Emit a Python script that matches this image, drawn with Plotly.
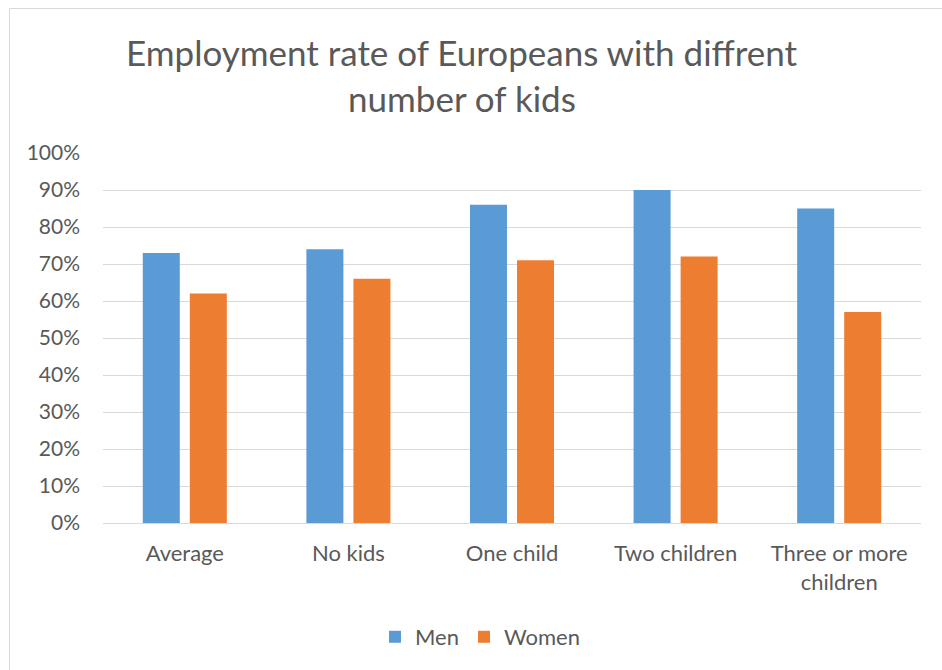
import plotly.graph_objects as go

categories = ["Average", "No kids", "One child", "Two children", "Three or more<br>children"]
men = [73, 74, 86, 90, 85]
women = [62, 66, 71, 72, 57]
title_lines = ["Employment rate of Europeans with diffrent", "number of kids"]

FONT = "Lato"
TXT = "#595959"

fig = go.Figure()
fig.add_trace(go.Bar(x=categories, y=[v / 100 for v in men], name="Men",
                     marker=dict(color="#5B9BD5", line=dict(width=0))))
fig.add_trace(go.Bar(x=categories, y=[v / 100 for v in women], name="Women",
                     marker=dict(color="#ED7D31", line=dict(width=0))))

W, H = 942, 670
L, R, T, B = 103, 21, 153, 147
PW, PH = W - L - R, H - T - B

fig.update_layout(
    width=W, height=H,
    margin=dict(l=L, r=R, t=T, b=B, pad=0),
    paper_bgcolor="white", plot_bgcolor="white",
    barmode="group", bargap=0.425, bargroupgap=0.213,
    font=dict(family=FONT, color=TXT, size=22),
    showlegend=True,
    legend=dict(orientation="h", x=(375 - L) / PW, xanchor="left", y=(523 - 637) / PH,
                yanchor="middle", font=dict(size=22, color=TXT),
                traceorder="normal", itemwidth=30),
    xaxis=dict(showgrid=False, showline=False, ticks="", ticklabelstandoff=15,
               tickfont=dict(size=22, color=TXT)),
    yaxis=dict(range=[0, 1], dtick=0.1, tickformat=".0%", showgrid=True,
               gridcolor="#D9D9D9", gridwidth=1, zeroline=True, zerolinecolor="#D9D9D9",
               zerolinewidth=1, showline=False, ticks="", ticklabelstandoff=22,
               tickfont=dict(size=21, color=TXT)),
)

# chart border (partially visible)
fig.add_shape(type="rect", xref="paper", yref="paper",
              x0=(9.5 - L) / PW, x1=(W + 5 - L) / PW,
              y0=(H - B - (H + 5)) / PH, y1=(H - B - 8.5) / PH,
              line=dict(color="#D9D9D9", width=1), layer="below")

for line, ypx in zip(title_lines, [52, 98]):
    fig.add_annotation(text=line, xref="paper", yref="paper",
                       x=(462 - L) / PW, y=(H - B - ypx) / PH,
                       xanchor="center", yanchor="middle", showarrow=False,
                       font=dict(family=FONT, size=35, color=TXT))

fig.write_html("out.html")
